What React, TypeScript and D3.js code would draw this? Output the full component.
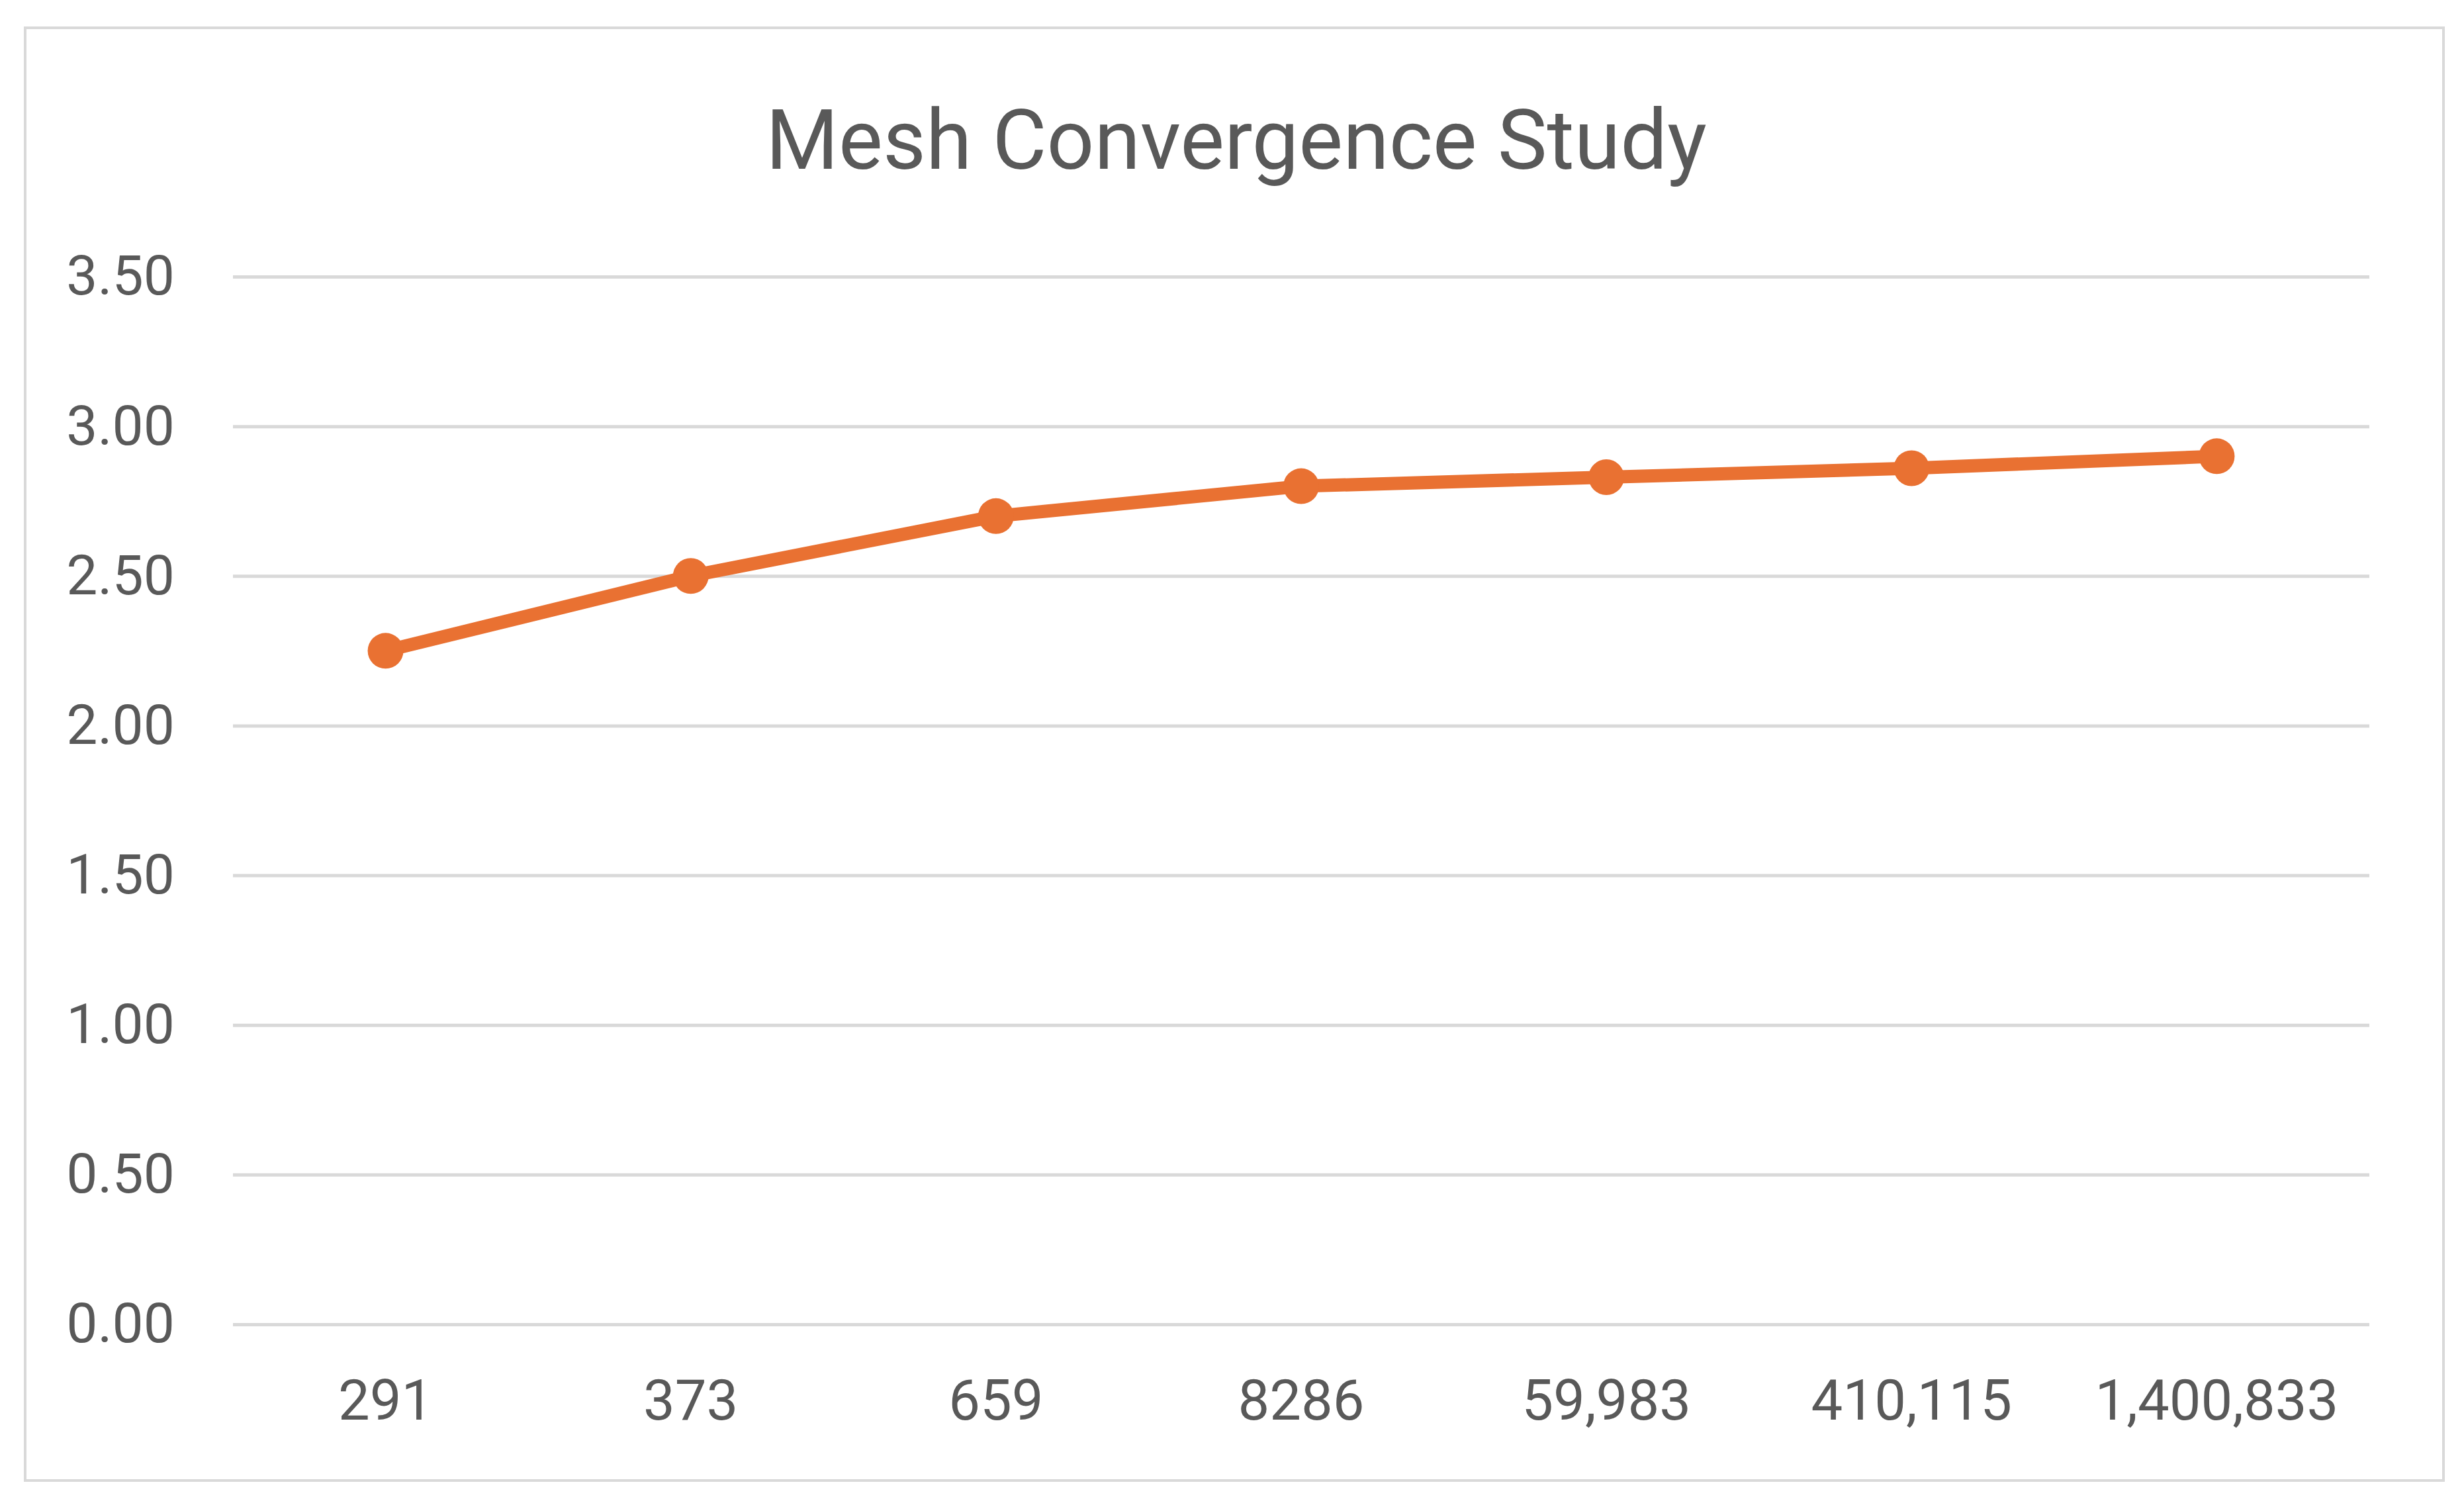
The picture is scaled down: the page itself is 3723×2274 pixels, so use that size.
import React, { useEffect, useRef } from 'react';
import * as d3 from 'd3';

const meshSizes = ['291', '373', '659', '8286', '59,983', '410,115', '1,400,833'];
const resultValues = [2.25, 2.5, 2.7, 2.8, 2.83, 2.86, 2.9];
const yTicks = [0, 0.5, 1, 1.5, 2, 2.5, 3, 3.5];
const chartTitle = 'Mesh Convergence Study';

const App: React.FC = () => {
  const svgRef = useRef<SVGSVGElement | null>(null);

  useEffect(() => {
    document.body.style.margin = '0';
    if (!svgRef.current) return;

    const svg = d3.select(svgRef.current);
    svg.selectAll('*').remove();

    const width = 3723;
    const height = 2274;
    const margin = { top: 418, right: 143, bottom: 273, left: 352 };
    const font = 'Roboto, "Liberation Sans", Arial, sans-serif';
    const textColor = '#595959';
    const gridColor = '#d9d9d9';
    const lineColor = '#e97132';

    svg.attr('viewBox', `0 0 ${width} ${height}`);

    svg.append('rect')
      .attr('width', width)
      .attr('height', height)
      .attr('fill', '#ffffff');

    // chart frame
    svg.append('rect')
      .attr('x', 38)
      .attr('y', 42)
      .attr('width', 3692 - 38)
      .attr('height', 2237 - 42)
      .attr('fill', '#ffffff')
      .attr('stroke', gridColor)
      .attr('stroke-width', 4);

    const x = d3.scaleBand()
      .domain(meshSizes)
      .range([margin.left, width - margin.right])
      .padding(0);

    const y = d3.scaleLinear()
      .domain([0, 3.5])
      .range([height - margin.bottom, margin.top]);

    // title
    svg.append('text')
      .attr('x', 1868)
      .attr('y', 255)
      .attr('text-anchor', 'middle')
      .attr('font-family', font)
      .attr('font-size', 126)
      .attr('fill', textColor)
      .text(chartTitle);

    // gridlines + y labels
    const yAxis = d3.axisLeft(y)
      .tickValues(yTicks)
      .tickSize(-(width - margin.left - margin.right))
      .tickPadding(88)
      .tickFormat(d => d3.format('.2f')(d as number));

    const yAxisGroup = svg.append('g')
      .attr('transform', `translate(${margin.left},0)`)
      .call(yAxis);

    yAxisGroup.select('.domain').remove();
    yAxisGroup.selectAll('line')
      .attr('stroke', gridColor)
      .attr('stroke-width', 5);
    yAxisGroup.selectAll('text')
      .attr('font-family', font)
      .attr('font-size', 84)
      .attr('fill', textColor);

    // x labels
    const xAxisGroup = svg.append('g')
      .attr('transform', `translate(0,${height - margin.bottom})`)
      .call(d3.axisBottom(x).tickSize(0).tickPadding(84));

    xAxisGroup.select('.domain').remove();
    xAxisGroup.selectAll('text')
      .attr('font-family', font)
      .attr('font-size', 85)
      .attr('fill', textColor);

    const cx = (d: string) => (x(d) as number) + x.bandwidth() / 2;
    const points = meshSizes.map((m, i) => ({ m, v: resultValues[i] }));

    const line = d3.line<{ m: string; v: number }>()
      .x(d => cx(d.m))
      .y(d => y(d.v));

    svg.append('path')
      .datum(points)
      .attr('d', line)
      .attr('fill', 'none')
      .attr('stroke', lineColor)
      .attr('stroke-width', 20)
      .attr('stroke-linejoin', 'round')
      .attr('stroke-linecap', 'round');

    svg.append('g')
      .selectAll('circle')
      .data(points)
      .join('circle')
        .attr('cx', d => cx(d.m))
        .attr('cy', d => y(d.v))
        .attr('r', 27)
        .attr('fill', lineColor);
  }, []);

  return <svg ref={svgRef} width={3723} height={2274} style={{ display: 'block' }}></svg>;
};

export default App;
